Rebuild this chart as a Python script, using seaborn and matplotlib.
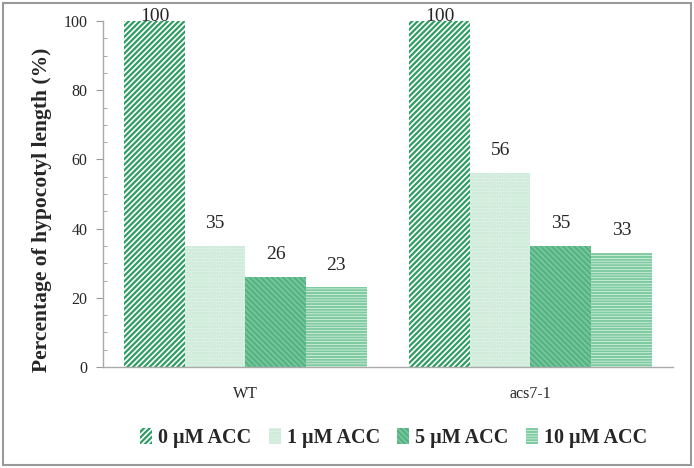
import numpy as np
import pandas as pd
import matplotlib
matplotlib.use('Agg')
import matplotlib.pyplot as plt
import matplotlib.patches as mpatches
from matplotlib.ticker import MultipleLocator
import seaborn as sns

# ─── Data ───────────────────────────────────────────────────────────────────
genotypes = ['WT', 'acs7-1']
treatments = ['0 µM ACC', '1 µM ACC', '5 µM ACC', '10 µM ACC']
wt_values = [100, 35, 26, 23]
acs_values = [100, 56, 35, 33]

# styling per treatment
face_colors = ['white', '#e3f4ea', '#78c89d', 'white']
hatch_colors = ['#2f9d62', '#c3e6d0', '#55b383', '#7fcba0']
hatches = ['//////', '.....', '\\\\\\\\\\\\', '------']

df = pd.DataFrame({
    'genotype': np.repeat(genotypes, len(treatments)),
    'treatment': treatments * len(genotypes),
    'value': wt_values + acs_values,
})

sns.set_style('white')
plt.rcParams['font.family'] = ['Liberation Serif', 'DejaVu Serif']
plt.rcParams['hatch.linewidth'] = 1.6

fig = plt.figure(figsize=(6.94, 4.68), dpi=100)
ax = fig.add_axes([0.1484, 0.2158, 0.8213, 0.7392])

sns.barplot(data=df, x='genotype', y='value', hue='treatment',
            hue_order=treatments, order=genotypes, width=0.85,
            palette=face_colors, ax=ax, legend=False, saturation=1)

# hatches & labels
for i, cont in enumerate(ax.containers):
    for bar in cont:
        bar.set_hatch(hatches[i])
        bar.set_edgecolor(hatch_colors[i])
        bar.set_linewidth(0)
    ax.bar_label(cont, labels=[f'{v:g}' for v in cont.datavalues],
                 padding=10 if i else -3, fontsize=14, clip_on=False)

ax.set_ylim(0, 100)
ax.set_xlim(-0.5, 1.5)
ax.yaxis.set_major_locator(MultipleLocator(20))
ax.yaxis.set_minor_locator(MultipleLocator(5))
ax.tick_params(axis='y', which='major', direction='out', length=5,
               color='#999999', labelsize=11.5, left=True, pad=6)
ax.tick_params(axis='y', which='minor', direction='in', length=3,
               color='#999999', left=True)
ax.tick_params(axis='x', length=0, labelsize=11.5, pad=14)
ax.set_xlabel('')
ax.set_ylabel('Percentage of hypocotyl length (%)', fontsize=15.5,
              fontweight='bold')
ax.yaxis.set_label_coords(-0.09, 0.455)
sns.despine(ax=ax)
for s in ['left', 'bottom']:
    ax.spines[s].set_color('#aaaaaa')
    ax.spines[s].set_linewidth(1)

handles = [mpatches.Patch(facecolor=face_colors[i], edgecolor=hatch_colors[i],
                          hatch=hatches[i], linewidth=0, label=t)
           for i, t in enumerate(treatments)]
fig.legend(handles=handles, loc='center', bbox_to_anchor=(0.567, 0.064),
           ncol=4, frameon=False, prop={'weight': 'bold', 'size': 14.5},
           handlelength=0.6, handleheight=0.8, handletextpad=0.3,
           columnspacing=0.85)

# gray frame around the figure
fig.patches.append(mpatches.Rectangle((0.004, 0.006), 0.992, 0.988,
                                      transform=fig.transFigure, fill=False,
                                      edgecolor='#999999', linewidth=1.5))

fig.savefig('out.png', dpi=100)
